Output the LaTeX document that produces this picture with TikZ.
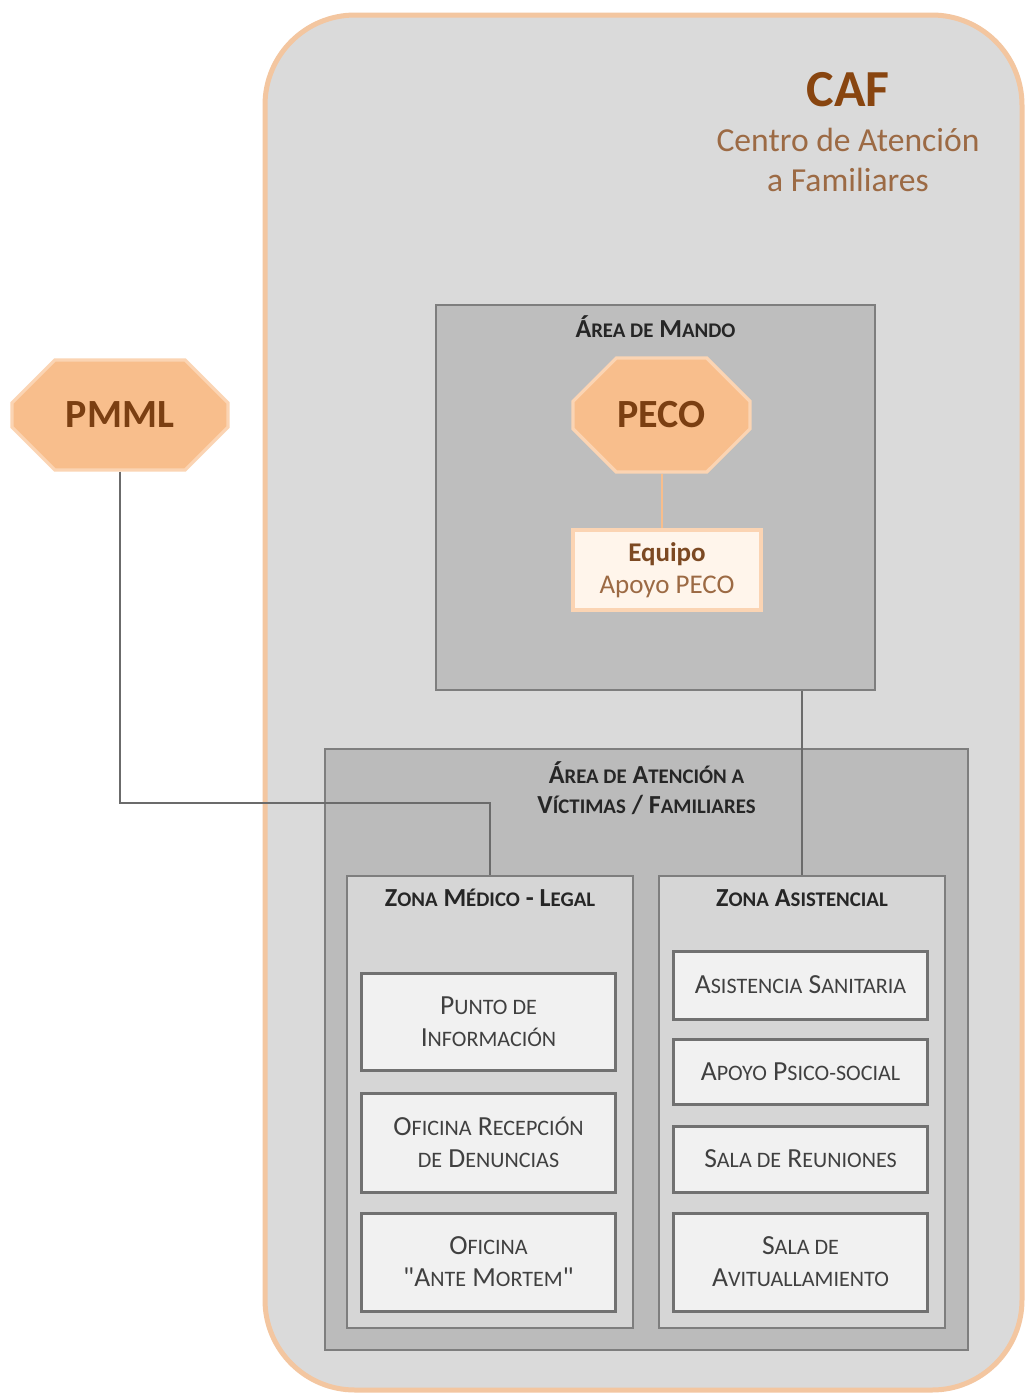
\documentclass[tikz,border=0pt]{standalone}
\usepackage{fontspec}
\setmainfont{Carlito}
\newfontface\rectas{Carlito}[Ligatures=TeXOff]
\usepackage{tikz}
\usetikzlibrary{shapes.misc,calc}

\definecolor{cafgris}{HTML}{DADADA}
\definecolor{cafborde}{HTML}{F3C6A0}
\definecolor{areagris}{HTML}{BEBEBE}
\definecolor{zonagris}{HTML}{D6D6D6}
\definecolor{salagris}{HTML}{F1F1F1}
\definecolor{borde}{HTML}{7E7E7E}
\definecolor{melocoton}{HTML}{F8BE8C}
\definecolor{melocotonclaro}{HTML}{FBD4B3}
\definecolor{marron}{HTML}{7B3F12}
\definecolor{marronclaro}{HTML}{9C6A44}

% letras menores para las versalitas
\makeatletter
\newcommand\lo[1]{{\fontsize{\strip@pt\dimexpr0.8\dimexpr\f@size pt\relax\relax}{0}\selectfont #1}}
\makeatother
\newcommand\comilla{{\rectas\symbol{34}}}

\tikzset{
  octo/.style={chamfered rectangle, chamfered rectangle xsep=15pt,
    chamfered rectangle ysep=15pt, fill=melocoton, draw=melocotonclaro,
    line width=1.6pt, text=marron, font=\fontsize{20}{22}\selectfont\bfseries,
    inner sep=0pt},
  areabox/.style={draw=borde, fill=areagris, line width=0.9pt, inner sep=0pt},
  zonabox/.style={draw=borde, fill=zonagris, line width=0.9pt, inner sep=0pt},
  salabox/.style={draw=borde!90!black, fill=salagris, line width=1.5pt,
    align=center, text=black!75, font=\fontsize{13.8}{16}\selectfont,
    minimum width=127pt, inner sep=0pt},
  titulo/.style={anchor=north, align=center, text=black!85,
    font=\fontsize{13}{15}\selectfont\bfseries},
  link/.style={draw=black!58, line width=1.2pt}
}

\begin{document}
\begin{tikzpicture}[x=0.5pt,y=-0.5pt]
\useasboundingbox (0,0) rectangle (1025,1394);
\fill[white] (0,0) rectangle (1025,1394);

% CAF
\node[draw=cafborde, fill=cafgris, line width=2.5pt, rounded corners=45pt,
  minimum width=378.5pt, minimum height=687.5pt] (caf) at (643.5,702.5) {};
\node[text=marron!90!orange, font=\fontsize{26}{28}\selectfont\bfseries] (caftit) at (848,90) {CAF};
\node[text=marronclaro, align=center, font=\fontsize{16.8}{20}\selectfont] (cafsub) at (848,160)
  {Centro de Atención\\a Familiares};

% PMML
\node[octo, minimum width=108pt, minimum height=55pt] (pmml) at (120,415) {PMML};

% area de mando
\node[areabox, minimum width=219.5pt, minimum height=192.5pt] (mando) at (655.5,497.5) {};
\node[titulo] at ($(mando.north)+(0,4)$) {Á\lo{REA DE} M\lo{ANDO}};
\node[octo, minimum width=88.5pt, minimum height=57pt] (peco) at (661.5,415) {PECO};
\node[draw=melocotonclaro, fill=orange!8, line width=2pt, minimum width=94pt,
  minimum height=40pt, align=center, inner sep=0pt, font=\fontsize{13.5}{16}\selectfont] (equipo) at (667,570)
  {{\bfseries\color{marron!85!gray}Equipo}\\
   {\color{marronclaro}Apoyo PECO}};

% area de atencion
\node[areabox, fill=areagris!105, minimum width=321.5pt, minimum height=300.5pt] (atencion) at (646.5,1049.5) {};
\node[titulo] at ($(atencion.north)+(0,6)$) {Á\lo{REA DE} A\lo{TENCIÓN A}\\V\lo{ÍCTIMAS} / F\lo{AMILIARES}};

\node[zonabox, minimum width=143pt, minimum height=226pt] (medico) at (490,1102) {};
\node[titulo] at ($(medico.north)+(0,7)$) {Z\lo{ONA} M\lo{ÉDICO} - L\lo{EGAL}};
\node[zonabox, minimum width=143pt, minimum height=226pt] (asist) at (802,1102) {};
\node[titulo] at ($(asist.north)+(0,7)$) {Z\lo{ONA} A\lo{SISTENCIAL}};

% salas zona medico-legal
\node[salabox, minimum height=48.5pt] (info) at (488.5,1021.5) {P\lo{UNTO DE}\\I\lo{NFORMACIÓN}};
\node[salabox, minimum height=49.5pt] (denuncias) at (488.5,1142.5) {O\lo{FICINA} R\lo{ECEPCIÓN}\\\lo{DE} D\lo{ENUNCIAS}};
\node[salabox, minimum height=49pt] (mortem) at (488.5,1262) {O\lo{FICINA}\\\comilla A\lo{NTE} M\lo{ORTEM}\comilla};

% salas zona asistencial
\node[salabox, minimum height=34pt] (sanitaria) at (800.5,985) {A\lo{SISTENCIA} S\lo{ANITARIA}};
\node[salabox, minimum height=32.5pt] (psico) at (800.5,1071.5) {A\lo{POYO} P\lo{SICO-SOCIAL}};
\node[salabox, minimum height=33pt] (reuniones) at (800.5,1159) {S\lo{ALA DE} R\lo{EUNIONES}};
\node[salabox, minimum height=49pt] (avit) at (800.5,1262) {S\lo{ALA DE}\\A\lo{VITUALLAMIENTO}};

% conexiones
\coordinate (codo) at (490,803);
\draw[link] (pmml.south) |- (codo) -- (medico.north);
\draw[link] (mando.south -| asist.north) -- (asist.north);
\draw[draw=melocoton, line width=1pt] (peco.south) -- (peco.south |- equipo.north);
\end{tikzpicture}
\end{document}
